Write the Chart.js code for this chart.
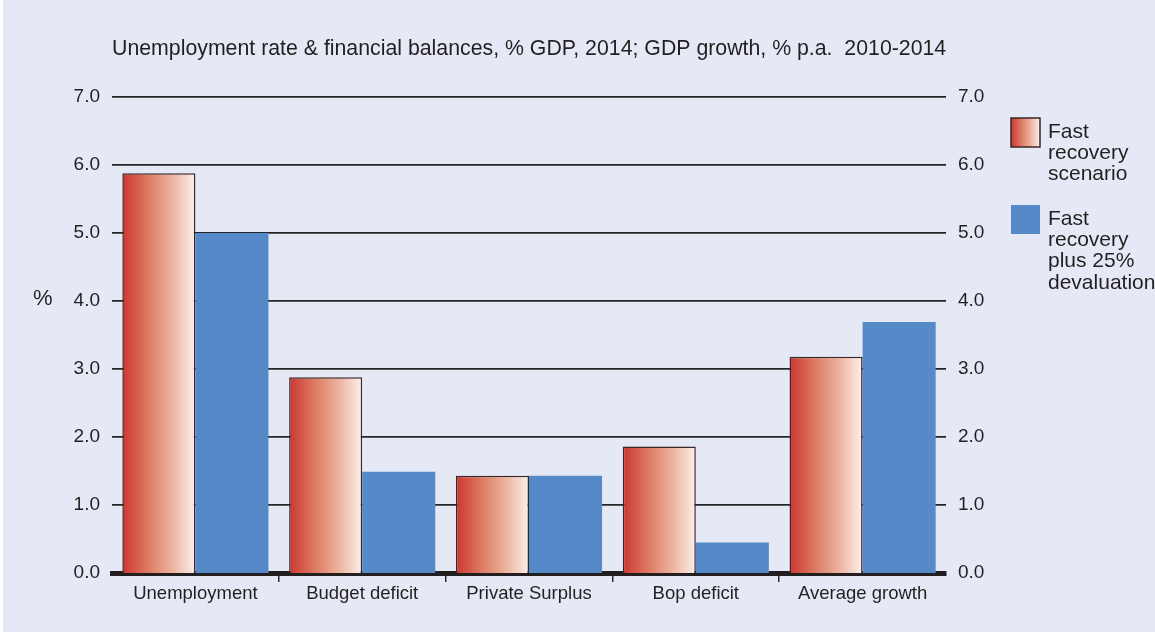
<!DOCTYPE html>
<html>
<head>
<meta charset="utf-8">
<script src="https://cdn.jsdelivr.net/npm/chart.js@4"></script>
<style>
  html, body { margin: 0; padding: 0; background: #e5e9f6; }
  #wrap { width: 1155px; height: 632px; }
</style>
</head>
<body>
<div id="wrap"><canvas id="chart" width="1155" height="632"></canvas></div>
<script>
// data
const categories = ["Unemployment", "Budget deficit", "Private Surplus", "Bop deficit", "Average growth"];
const fastRecovery = [5.88, 2.88, 1.43, 1.86, 3.18];
const fastRecoveryDevalued = [5.0, 1.49, 1.43, 0.45, 3.69];
const seriesNames = ["Fast recovery scenario", "Fast recovery plus 25% devaluation"];
const legendLines = [["Fast", "recovery", "scenario"], ["Fast", "recovery", "plus 25%", "devaluation"]];
const subtitle = "Unemployment rate & financial balances, % GDP, 2014; GDP growth, % p.a.  2010-2014";
const yMin = 0;
const yMax = 7;

const FONT = '"Liberation Sans", Arial, Helvetica, sans-serif';
const TEXT = "#231f20";
const BG = "#e5e9f6";
const BLUE = "#5589c8";
const CAT_PCT = 0.876;
const BAR_PCT = 1.0;

function redGradient(ctx, left, right) {
  const g = ctx.createLinearGradient(left, 0, right, 0);
  g.addColorStop(0, "#cc3630");
  g.addColorStop(0.35, "#dd7a62");
  g.addColorStop(0.7, "#eeb6a3");
  g.addColorStop(1, "#fcf0ea");
  return g;
}

// gradient for every red bar, worked out from the category scale
function redFill(context) {
  const chart = context.chart;
  const xs = chart.scales.x;
  if (!xs || context.dataIndex === undefined || !isFinite(xs.left)) return "#dd7a62";
  const cat = (xs.right - xs.left) / categories.length;
  const centre = xs.getPixelForValue(context.dataIndex);
  const group = cat * CAT_PCT;
  const w = group / 2 * BAR_PCT;
  const left = centre - group / 2 + (group / 2 - w) / 2;
  return redGradient(chart.ctx, left, left + w);
}

const decor = {
  id: "decor",
  beforeDraw(chart) {
    const ctx = chart.ctx;
    ctx.save();
    ctx.fillStyle = BG;
    ctx.fillRect(0, 0, chart.width, chart.height);
    ctx.fillStyle = "#ffffff";
    ctx.fillRect(0, 0, 3, chart.height);
    ctx.restore();
  },
  afterDraw(chart) {
    const ctx = chart.ctx;
    const area = chart.chartArea;
    ctx.save();
    ctx.fillStyle = TEXT;
    ctx.textBaseline = "middle";
    ctx.textAlign = "left";
    ctx.font = "21.3px " + FONT;
    ctx.fillText(subtitle, area.left, 49);
    ctx.font = "22px " + FONT;
    ctx.fillText("%", 33, 299);

    // legend
    const boxX = 1011, size = 29;
    const tops = [118, 205];
    tops.forEach((top, i) => {
      if (i === 0) {
        ctx.fillStyle = redGradient(ctx, boxX, boxX + size);
        ctx.fillRect(boxX, top, size, size);
        ctx.strokeStyle = "#3a2626";
        ctx.lineWidth = 1.5;
        ctx.strokeRect(boxX, top, size, size);
      } else {
        ctx.fillStyle = BLUE;
        ctx.fillRect(boxX, top, size, size);
      }
      ctx.fillStyle = TEXT;
      ctx.font = "21px " + FONT;
      legendLines[i].forEach((line, j) => {
        ctx.fillText(line, 1048, top + 14 + j * 21.3);
      });
    });
    ctx.restore();
  }
};

new Chart(document.getElementById("chart"), {
  type: "bar",
  data: {
    labels: categories,
    datasets: [
      {
        label: seriesNames[0],
        data: fastRecovery,
        backgroundColor: redFill,
        borderColor: "#3a2626",
        borderWidth: 1.5,
        borderSkipped: "bottom",
        categoryPercentage: CAT_PCT,
        barPercentage: BAR_PCT
      },
      {
        label: seriesNames[1],
        data: fastRecoveryDevalued,
        backgroundColor: BLUE,
        borderWidth: 0,
        categoryPercentage: CAT_PCT,
        barPercentage: BAR_PCT
      }
    ]
  },
  options: {
    responsive: false,
    animation: false,
    layout: { padding: { top: 97, left: 0, right: 0, bottom: 0 } },
    plugins: {
      legend: { display: false },
      title: { display: false },
      tooltip: { enabled: false }
    },
    scales: {
      x: {
        afterFit(scale) { scale.height = 59; },
        grid: {
          drawOnChartArea: false,
          tickLength: 9,
          lineWidth: 1.5,
          tickColor: ctx => (ctx.type === "tick" && ctx.index > 0) ? "#2b2b2b" : "rgba(0,0,0,0)"
        },
        border: { display: true, color: "#231f20", width: 5 },
        ticks: { color: TEXT, font: { family: FONT, size: 18.5 }, padding: 1 }
      },
      y: {
        position: "left",
        min: yMin,
        max: yMax,
        afterFit(scale) { scale.width = 112; },
        grid: {
          drawTicks: false,
          color: "#262626",
          lineWidth: ctx => (ctx.tick && ctx.tick.value === 0) ? 0 : 1.7
        },
        border: { display: false },
        ticks: {
          stepSize: 1,
          padding: 12,
          color: TEXT,
          font: { family: FONT, size: 19 },
          callback: v => v.toFixed(1)
        }
      },
      y2: {
        position: "right",
        min: yMin,
        max: yMax,
        afterFit(scale) { scale.width = 209; },
        grid: { display: false, drawTicks: false },
        border: { display: false },
        ticks: {
          stepSize: 1,
          padding: 12,
          color: TEXT,
          font: { family: FONT, size: 19 },
          callback: v => v.toFixed(1)
        }
      }
    }
  },
  plugins: [decor]
});
</script>
</body>
</html>
